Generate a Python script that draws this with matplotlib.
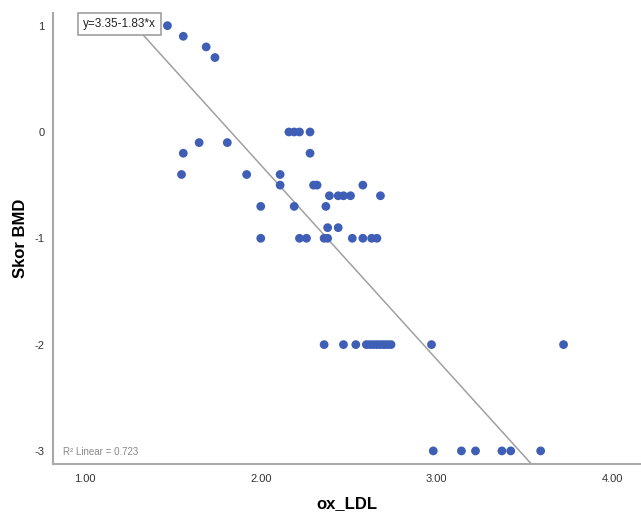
import numpy as np
import matplotlib.pyplot as plt

plt.rcParams['font.family'] = ['Liberation Sans', 'DejaVu Sans']
plt.rcParams['axes.unicode_minus'] = False

# ox_LDL vs Skor BMD
ox_ldl = [1.47, 1.56, 1.69, 1.74,
          2.16, 2.19, 2.22, 2.28,
          1.65, 1.81,
          1.56, 2.28,
          1.55, 1.92, 2.11,
          2.11, 2.30, 2.32, 2.58,
          2.39, 2.44, 2.47, 2.51, 2.68,
          2.00, 2.19, 2.37,
          2.38, 2.44,
          2.00, 2.22, 2.26, 2.36, 2.38, 2.52, 2.58, 2.63, 2.66,
          2.36, 2.47, 2.54, 2.60, 2.62, 2.64, 2.66, 2.68, 2.70, 2.72, 2.74, 2.97, 3.72,
          2.98, 3.14, 3.22, 3.37, 3.42, 3.59]
skor_bmd = [1.0, 0.9, 0.8, 0.7,
            0.0, 0.0, 0.0, 0.0,
            -0.1, -0.1,
            -0.2, -0.2,
            -0.4, -0.4, -0.4,
            -0.5, -0.5, -0.5, -0.5,
            -0.6, -0.6, -0.6, -0.6, -0.6,
            -0.7, -0.7, -0.7,
            -0.9, -0.9,
            -1.0, -1.0, -1.0, -1.0, -1.0, -1.0, -1.0, -1.0, -1.0,
            -2.0, -2.0, -2.0, -2.0, -2.0, -2.0, -2.0, -2.0, -2.0, -2.0, -2.0, -2.0, -2.0,
            -3.0, -3.0, -3.0, -3.0, -3.0, -3.0]

intercept = 3.35
slope = -1.83
r_squared = 0.723

xticks = [1.0, 2.0, 3.0, 4.0]
yticks = [-3, -2, -1, 0, 1]

fig = plt.figure(figsize=(6.41, 5.16), dpi=100)
ax = fig.add_axes([0.0827, 0.1008, 0.9173, 0.8742])

xmin, xmax = 0.82, 4.16
ymin, ymax = -3.123, 1.12

# fit line
xl = np.linspace(xmin, xmax, 200)
ax.plot(xl, intercept + slope * xl, color='#a0a0a0', lw=1.1, zorder=2)

ax.scatter(ox_ldl, skor_bmd, s=40, color='#3f5fb7', edgecolors='none', zorder=3)

ax.set_xlim(xmin, xmax)
ax.set_ylim(ymin, ymax)
ax.set_xticks(xticks)
ax.set_xticklabels(['%.2f' % v for v in xticks])
ax.set_yticks(yticks)
ax.tick_params(length=0, labelsize=8, colors='#333333')
ax.tick_params(axis='x', pad=7)
ax.tick_params(axis='y', pad=6)

for s in ['top', 'right']:
    ax.spines[s].set_visible(False)
for s in ['left', 'bottom']:
    ax.spines[s].set_color('#a8a8a8')
    ax.spines[s].set_linewidth(1.5)

ax.set_xlabel('ox_LDL', fontsize=12, fontweight='bold', labelpad=9)
ax.set_ylabel('Skor BMD', fontsize=12, fontweight='bold', labelpad=5)

ax.text(0.99, 1.014, 'y=%.2f%.2f*x' % (intercept, slope), fontsize=8.5, ha='left', va='center',
        color='#222222', zorder=4,
        bbox=dict(boxstyle='square,pad=0.45', fc='white', ec='#a0a0a0', lw=1.2))
ax.text(0.017, 0.027, 'R\u00b2 Linear = %.3f' % r_squared, transform=ax.transAxes,
        fontsize=7, color='#888888', ha='left', va='center')

fig.savefig('out.png', dpi=100)
